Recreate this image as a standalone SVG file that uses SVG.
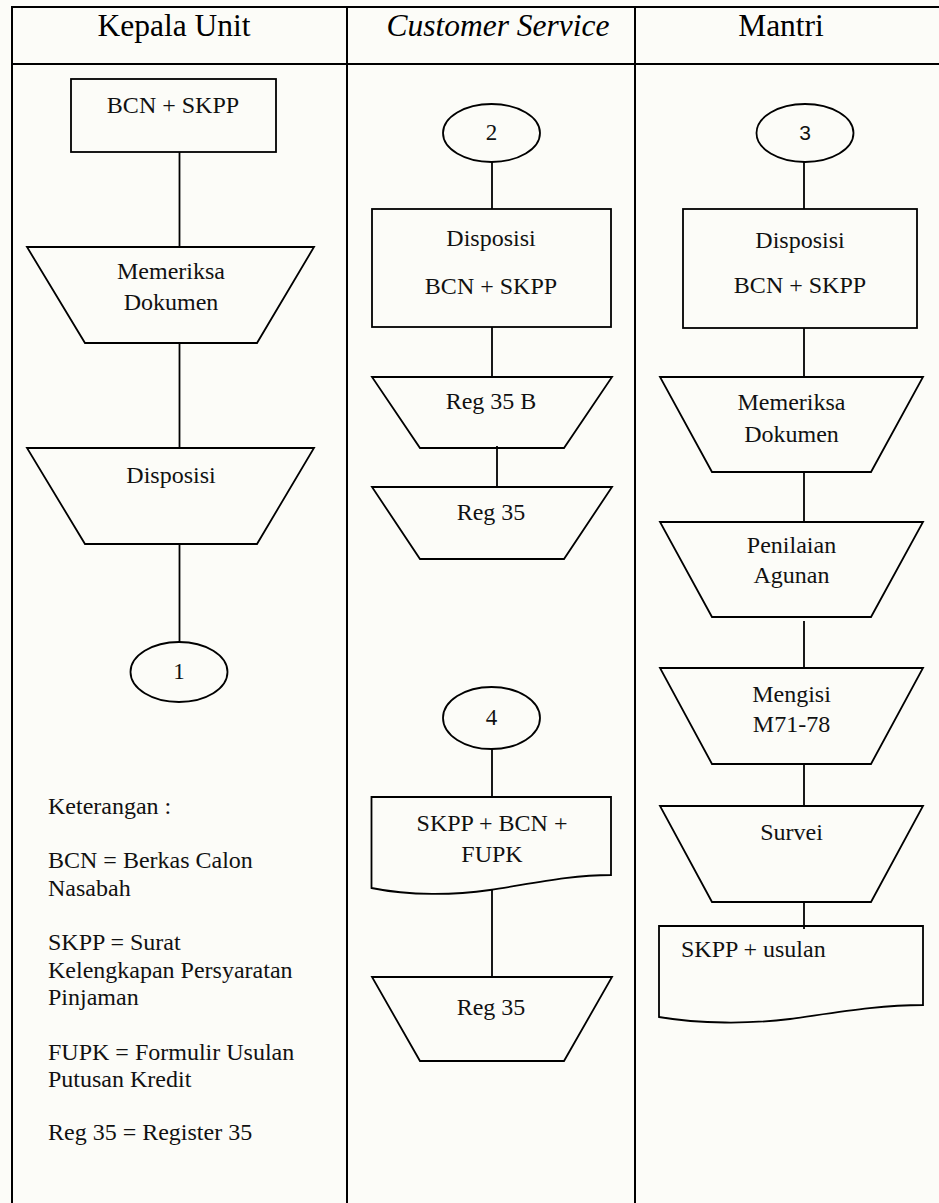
<svg xmlns="http://www.w3.org/2000/svg" width="939" height="1203" viewBox="0 0 939 1203">
  <style>
    .frame { fill: none; stroke: #000; stroke-width: 2; }
    .shape { fill: none; stroke: #000; stroke-width: 1.8; stroke-linejoin: miter; }
    .link { fill: none; stroke: #000; stroke-width: 1.8; }
    .head { font-family: "Liberation Serif", "Times New Roman", serif; font-size: 31.5px; fill: #000; text-anchor: middle; }
    .lbl { font-family: "Liberation Serif", "Times New Roman", serif; font-size: 24px; fill: #111; text-anchor: middle; }
    .lbl-left { font-family: "Liberation Serif", "Times New Roman", serif; font-size: 24px; fill: #111; text-anchor: start; }
    .num { font-family: "Liberation Serif", "Times New Roman", serif; font-size: 23px; fill: #111; text-anchor: middle; }
    .sans { font-family: "Liberation Sans", Arial, sans-serif; font-size: 21px; fill: #111; text-anchor: middle; }
    .note { font-family: "Liberation Serif", "Times New Roman", serif; font-size: 24px; fill: #111; }
  </style>

  <rect x="0" y="0" width="939" height="1203" fill="#fcfcf8"/>

  <!-- swimlane frame -->
  <g id="lanes">
    <line class="frame" x1="12" y1="7" x2="939" y2="7"/>
    <line class="frame" x1="12" y1="64" x2="939" y2="64"/>
    <line class="frame" x1="12" y1="6" x2="12" y2="1203"/>
    <line class="frame" x1="347" y1="6" x2="347" y2="1203"/>
    <line class="frame" x1="635" y1="6" x2="635" y2="1203"/>
    <text class="head" x="174" y="36">Kepala Unit</text>
    <text class="head" x="498" y="36" font-style="italic">Customer Service</text>
    <text class="head" x="781" y="36">Mantri</text>
  </g>

  <!-- connectors -->
  <g id="connectors">
    <line class="link" x1="179.5" y1="152" x2="179.5" y2="247"/>
    <line class="link" x1="179.5" y1="343" x2="179.5" y2="448"/>
    <line class="link" x1="179.5" y1="544" x2="179.5" y2="642"/>

    <line class="link" x1="492" y1="162" x2="492" y2="209"/>
    <line class="link" x1="492" y1="327" x2="492" y2="377"/>
    <line class="link" x1="497" y1="446" x2="497" y2="487"/>
    <line class="link" x1="492" y1="749" x2="492" y2="797"/>
    <line class="link" x1="492" y1="890" x2="492" y2="977"/>

    <line class="link" x1="804" y1="162" x2="804" y2="209"/>
    <line class="link" x1="804" y1="328" x2="804" y2="377"/>
    <line class="link" x1="804" y1="472" x2="804" y2="522"/>
    <line class="link" x1="804" y1="621" x2="804" y2="668"/>
    <line class="link" x1="804" y1="764" x2="804" y2="806"/>
    <line class="link" x1="804" y1="902" x2="804" y2="929"/>
  </g>

  <!-- Kepala Unit lane -->
  <g id="ku-berkas">
    <rect class="shape" x="71" y="79" width="205" height="73"/>
    <text class="lbl" x="173" y="113">BCN + SKPP</text>
  </g>
  <g id="ku-memeriksa">
    <polygon class="shape" points="27,247 314,247 257,343 85,343"/>
    <text class="lbl" x="171" y="279">Memeriksa</text>
    <text class="lbl" x="171" y="310">Dokumen</text>
  </g>
  <g id="ku-disposisi">
    <polygon class="shape" points="27,448 314,448 257,544 85,544"/>
    <text class="lbl" x="171" y="483">Disposisi</text>
  </g>
  <g id="ku-conn-1">
    <ellipse class="shape" cx="179" cy="672" rx="48.5" ry="30"/>
    <text class="num" x="179" y="679">1</text>
  </g>
  <g id="keterangan">
    <text class="note" x="48" y="814">Keterangan :</text>
    <text class="note" x="48" y="868">BCN = Berkas Calon</text>
    <text class="note" x="48" y="896">Nasabah</text>
    <text class="note" x="48" y="950">SKPP = Surat</text>
    <text class="note" x="48" y="978">Kelengkapan Persyaratan</text>
    <text class="note" x="48" y="1005">Pinjaman</text>
    <text class="note" x="48" y="1060">FUPK = Formulir Usulan</text>
    <text class="note" x="48" y="1087">Putusan Kredit</text>
    <text class="note" x="48" y="1140">Reg 35 = Register 35</text>
  </g>

  <!-- Customer Service lane -->
  <g id="cs-conn-2">
    <ellipse class="shape" cx="491.5" cy="133" rx="48.5" ry="29"/>
    <text class="num" x="491.5" y="140">2</text>
  </g>
  <g id="cs-disposisi">
    <rect class="shape" x="372" y="209" width="239" height="118"/>
    <text class="lbl" x="491" y="246">Disposisi</text>
    <text class="lbl" x="491" y="294">BCN + SKPP</text>
  </g>
  <g id="cs-reg35b">
    <polygon class="shape" points="372,377 612,377 564,448 420,448"/>
    <text class="lbl" x="491" y="409">Reg 35 B</text>
  </g>
  <g id="cs-reg35-a">
    <polygon class="shape" points="372,487 612,487 564,559 420,559"/>
    <text class="lbl" x="491" y="520">Reg 35</text>
  </g>
  <g id="cs-conn-4">
    <ellipse class="shape" cx="491.5" cy="718" rx="48.5" ry="31"/>
    <text class="num" x="491.5" y="725">4</text>
  </g>
  <g id="cs-dokumen">
    <path class="shape" d="M371.5,797 L611,797 L611,875 C570,875 530,884 490,890 C455,895 410,896 371.5,888 Z"/>
    <text class="lbl" x="492" y="831">SKPP + BCN +</text>
    <text class="lbl" x="492" y="862">FUPK</text>
  </g>
  <g id="cs-reg35-b">
    <polygon class="shape" points="372,977 612,977 564,1061 420,1061"/>
    <text class="lbl" x="491" y="1015">Reg 35</text>
  </g>

  <!-- Mantri lane -->
  <g id="mt-conn-3">
    <ellipse class="shape" cx="805" cy="133" rx="48.5" ry="29"/>
    <text class="sans" x="805" y="140">3</text>
  </g>
  <g id="mt-disposisi">
    <rect class="shape" x="683" y="209" width="234" height="119"/>
    <text class="lbl" x="800" y="248">Disposisi</text>
    <text class="lbl" x="800" y="293">BCN + SKPP</text>
  </g>
  <g id="mt-memeriksa">
    <polygon class="shape" points="660,377 923,377 871,472 712,472"/>
    <text class="lbl" x="791.5" y="410">Memeriksa</text>
    <text class="lbl" x="791.5" y="442">Dokumen</text>
  </g>
  <g id="mt-penilaian">
    <polygon class="shape" points="660,522 923,522 871,617 712,617"/>
    <text class="lbl" x="791.5" y="553">Penilaian</text>
    <text class="lbl" x="791.5" y="583">Agunan</text>
  </g>
  <g id="mt-mengisi">
    <polygon class="shape" points="660,668 923,668 871,764 712,764"/>
    <text class="lbl" x="791.5" y="702">Mengisi</text>
    <text class="lbl" x="791.5" y="732">M71-78</text>
  </g>
  <g id="mt-survei">
    <polygon class="shape" points="660,806 923,806 871,902 712,902"/>
    <text class="lbl" x="791.5" y="840">Survei</text>
  </g>
  <g id="mt-usulan">
    <path class="shape" d="M659,926 L923,926 L923,1005 C880,1005 840,1012 790,1019 C750,1024 700,1024 659,1017 Z"/>
    <text class="lbl-left" x="681" y="957">SKPP + usulan</text>
  </g>
</svg>
